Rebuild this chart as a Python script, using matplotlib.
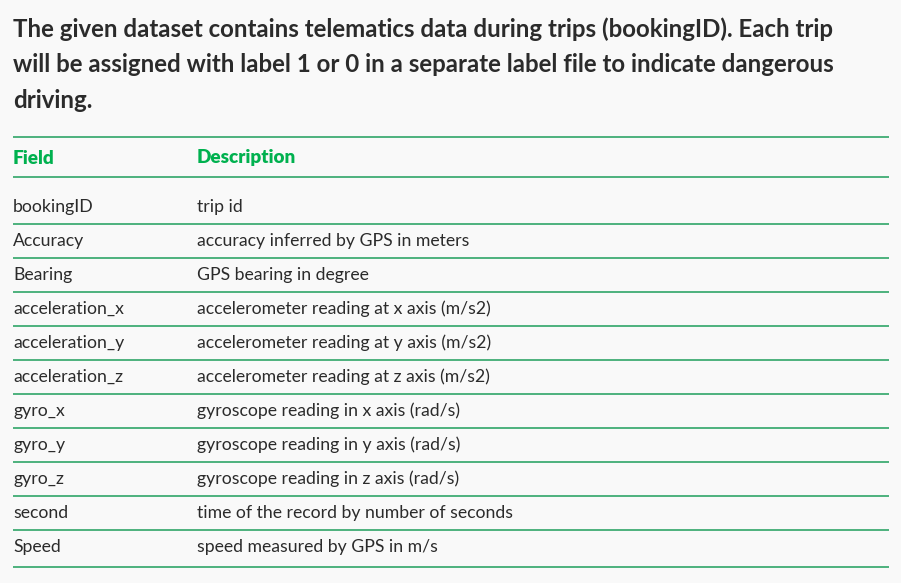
import matplotlib.pyplot as plt

# Text content of the table
title_lines = [
    "The given dataset contains telematics data during trips (bookingID). Each trip",
    "will be assigned with label 1 or 0 in a separate label file to indicate dangerous",
    "driving.",
]
header = ["Field", "Description"]
fields = ["bookingID", "Accuracy", "Bearing", "acceleration_x", "acceleration_y",
          "acceleration_z", "gyro_x", "gyro_y", "gyro_z", "second", "Speed"]
descriptions = [
    "trip id",
    "accuracy inferred by GPS in meters",
    "GPS bearing in degree",
    "accelerometer reading at x axis (m/s2)",
    "accelerometer reading at y axis (m/s2)",
    "accelerometer reading at z axis (m/s2)",
    "gyroscope reading in x axis (rad/s)",
    "gyroscope reading in y axis (rad/s)",
    "gyroscope reading in z axis (rad/s)",
    "time of the record by number of seconds",
    "speed measured by GPS in m/s",
]

bg = "#f9f9f9"
green = "#00b14f"
line_green = "#1f9e5c"
dark = "#2b2b2b"

fig = plt.figure(figsize=(9.01, 5.83), dpi=100, facecolor=bg)
ax = fig.add_axes([0, 0, 1, 1])
ax.set_xlim(0, 901)
ax.set_ylim(583, 0)
ax.axis("off")
ax.set_facecolor(bg)

# title paragraph
for i, line in enumerate(title_lines):
    ax.text(13, 29 + i * 36, line, fontsize=17.3, fontfamily="Lato",
            fontweight="bold", color=dark, va="center", ha="left")

# header
x_field, x_desc = 13, 197
ax.text(x_field, 158, header[0], fontsize=13.6, fontfamily="Lato",
        fontweight="heavy", color=green, va="center")
ax.text(x_desc, 158, header[1], fontsize=13.6, fontfamily="Lato",
        fontweight="heavy", color=green, va="center")

# horizontal rules
rule_y = [137, 177, 224, 258, 292, 326, 360, 394, 428, 462, 496, 530, 567]
for y in rule_y:
    ax.plot([13, 889], [y, y], color=line_green, lw=1.1, solid_capstyle="butt")

# rows
row_centers = [207, 241, 275, 309, 343, 377, 411, 445, 479, 513, 547]
for f, d, y in zip(fields, descriptions, row_centers):
    ax.text(x_field, y, f, fontsize=12.7, fontfamily="Lato", color=dark, va="center")
    ax.text(x_desc, y, d, fontsize=12.7, fontfamily="Lato", color=dark, va="center")

fig.savefig("out.png", dpi=100, facecolor=bg)
